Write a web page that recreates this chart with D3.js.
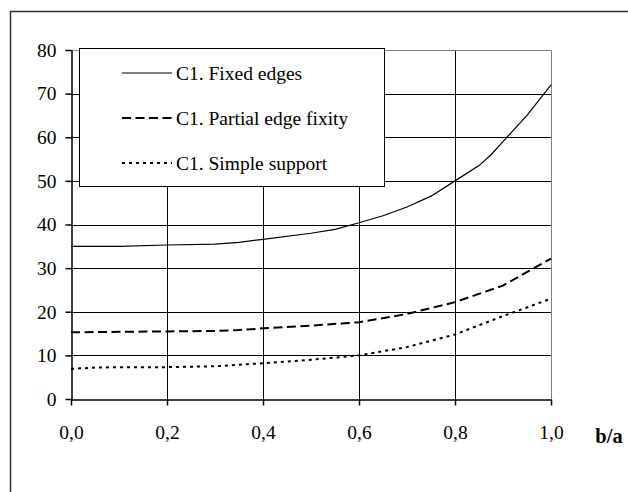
<!DOCTYPE html>
<html>
<head>
<meta charset="utf-8">
<script src="https://cdn.jsdelivr.net/npm/d3@7/dist/d3.min.js"></script>
<style>
  body { margin: 0; background: #fff; }
  svg text { fill: #000; }
</style>
</head>
<body>
<div id="chart"></div>
<script>
/* -----------------    DATA     ------------------ */
const ratioFixed = [0, 0.1, 0.2, 0.3, 0.35, 0.4, 0.5, 0.55, 0.6, 0.65, 0.7, 0.75, 0.8, 0.85, 0.875, 0.9, 0.95, 1.0];
const valFixed = [35, 35, 35.3, 35.5, 35.9, 36.6, 38, 38.9, 40.4, 42, 44, 46.5, 50, 53.5, 56, 59, 65, 72];

const ratioPartial = [0, 0.1, 0.2, 0.3, 0.35, 0.4, 0.5, 0.6, 0.7, 0.8, 0.9, 1.0];
const valPartial = [15.3, 15.4, 15.5, 15.6, 15.8, 16.2, 16.8, 17.6, 19.5, 22.2, 26, 32.2];

const ratioSimple = [0, 0.05, 0.1, 0.2, 0.3, 0.4, 0.5, 0.6, 0.7, 0.8, 0.9, 1.0];
const valSimple = [6.9, 7.2, 7.3, 7.3, 7.5, 8.2, 9, 10, 11.9, 14.8, 19, 23];

const seriesNames = ['C1. Fixed edges', 'C1. Partial edge fixity', 'C1. Simple support'];
const xTicks = [0, 0.2, 0.4, 0.6, 0.8, 1.0];
const yTicks = [0, 10, 20, 30, 40, 50, 60, 70, 80];

/* -----------------    SETTINGS     ------------------ */
const graphSettings = {
    svgWidth: 628,
    svgHeight: 492,
    left: 71,
    right: 551,
    top: 50,
    bottom: 399,
    fontSize: 19.5
};

const dashes = ['none', '9,4.5', '3,4'];
const widths = [1.2, 2, 2];
const serif = '"Times New Roman", "Liberation Serif", Times, serif';

/* -----------------    LOGIC     ------------------ */
const gs = graphSettings;

const svg = d3.select('#chart')
    .append('svg')
    .attr('width', gs.svgWidth)
    .attr('height', gs.svgHeight);

// Outer frame (right/bottom run off the picture)
svg.append('rect')
    .attr('x', 10.5).attr('y', 11.5)
    .attr('width', 700).attr('height', 600)
    .attr('fill', 'none')
    .attr('stroke', '#333')
    .attr('stroke-width', 1.5);

// Scales
const xScale = d3.scaleLinear().domain([0, 1]).range([gs.left, gs.right]);
const yScale = d3.scaleLinear().domain([0, 80]).range([gs.bottom, gs.top]);

// Grid
svg.append('g').selectAll('line.h')
    .data(yTicks.slice(1, -1))
    .enter().append('line')
    .attr('x1', gs.left).attr('x2', gs.right)
    .attr('y1', d => Math.round(yScale(d)) + 0.5)
    .attr('y2', d => Math.round(yScale(d)) + 0.5)
    .attr('stroke', '#000');

svg.append('g').selectAll('line.v')
    .data(xTicks.slice(1, -1))
    .enter().append('line')
    .attr('y1', gs.top).attr('y2', gs.bottom)
    .attr('x1', d => Math.round(xScale(d)) + 0.5)
    .attr('x2', d => Math.round(xScale(d)) + 0.5)
    .attr('stroke', '#000');

// Plot border top/right (grey)
svg.append('path')
    .attr('d', `M${gs.left},${Math.round(yScale(80)) + 0.5}H${Math.round(xScale(1)) + 0.5}V${gs.bottom}`)
    .attr('fill', 'none')
    .attr('stroke', '#808080');

// Axes
const xAxis = d3.axisBottom(xScale)
    .tickValues(xTicks)
    .tickSizeInner(6).tickSizeOuter(0)
    .tickPadding(20)
    .tickFormat(d => d3.format('.1f')(d).replace('.', ','));

const yAxis = d3.axisLeft(yScale)
    .tickValues(yTicks)
    .tickSizeInner(6).tickSizeOuter(0)
    .tickPadding(9);

const gx = svg.append('g')
    .attr('transform', `translate(0, ${Math.round(gs.bottom) + 0.5})`)
    .call(xAxis);

const gy = svg.append('g')
    .attr('transform', `translate(${gs.left + 0.5}, 0)`)
    .call(yAxis);

[gx, gy].forEach(g => {
    g.attr('font-family', serif).attr('font-size', gs.fontSize);
    g.selectAll('path, line').attr('stroke', '#000').attr('stroke-width', 1.5);
    g.selectAll('text').attr('fill', '#000');
});

// x axis title
svg.append('text')
    .attr('x', 609).attr('y', 443)
    .attr('text-anchor', 'middle')
    .attr('font-family', serif)
    .attr('font-size', 20.5)
    .attr('font-weight', 'bold')
    .text('b/a');

// Lines
const line = d3.line()
    .x(d => xScale(d[0]))
    .y(d => yScale(d[1]));

const series = [
    d3.zip(ratioFixed, valFixed),
    d3.zip(ratioPartial, valPartial),
    d3.zip(ratioSimple, valSimple)
];

svg.append('g').selectAll('path')
    .data(series)
    .enter().append('path')
    .attr('d', line)
    .attr('fill', 'none')
    .attr('stroke', '#000')
    .attr('stroke-width', (d, i) => widths[i])
    .attr('stroke-dasharray', (d, i) => dashes[i]);

// Legend
const legend = svg.append('g');
legend.append('rect')
    .attr('x', 79.5).attr('y', 48.5)
    .attr('width', 305).attr('height', 138)
    .attr('fill', '#fff')
    .attr('stroke', '#000');

const legendRows = legend.selectAll('g')
    .data(seriesNames)
    .enter().append('g')
    .attr('transform', (d, i) => `translate(0, ${73 + i * 45})`);

legendRows.append('line')
    .attr('x1', 122).attr('x2', 172)
    .attr('y1', 0).attr('y2', 0)
    .attr('stroke', '#000')
    .attr('stroke-width', (d, i) => widths[i])
    .attr('stroke-dasharray', (d, i) => dashes[i]);

legendRows.append('text')
    .attr('x', 176).attr('y', 6.5)
    .attr('font-family', serif)
    .attr('font-size', gs.fontSize)
    .text(d => d);
</script>
</body>
</html>
